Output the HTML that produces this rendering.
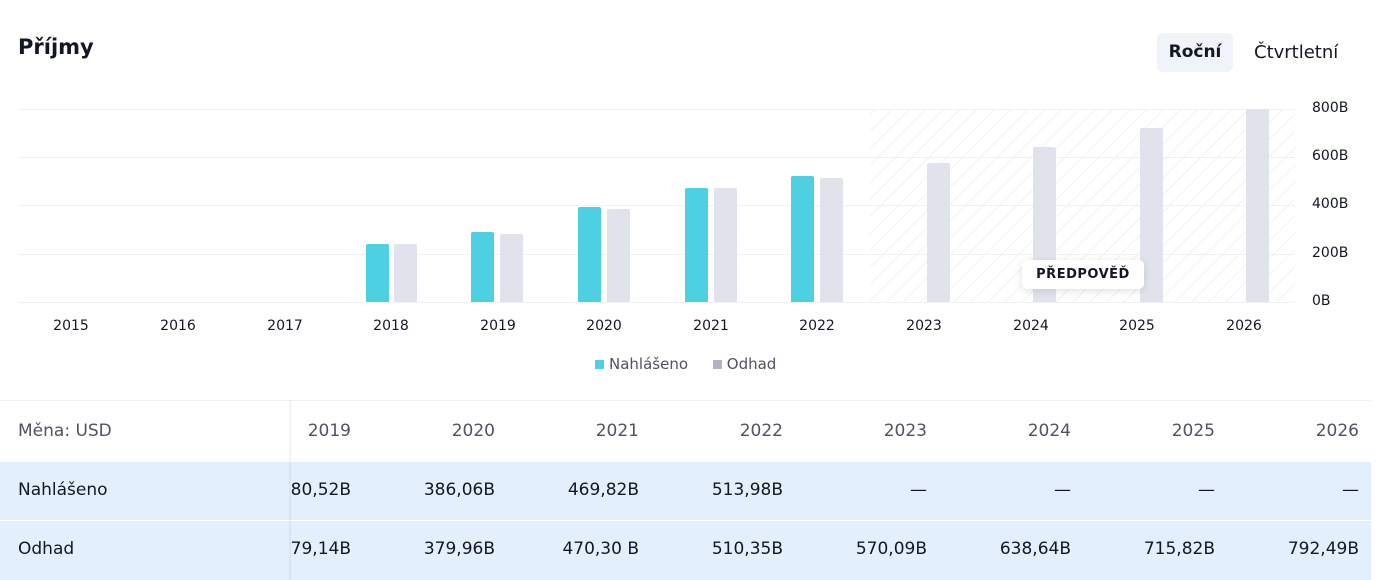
<!DOCTYPE html>
<html><head><meta charset="utf-8"><style>
body{margin:0;width:1383px;height:580px;background:#fff;font-family:"DejaVu Sans","Liberation Sans",sans-serif;color:#131722;overflow:hidden;position:relative}
.a{position:absolute}
.yl{position:absolute;left:1312px;font-size:14px;color:#131722}
.xl{position:absolute;top:318px;width:60px;margin-left:-30px;text-align:center;font-size:14px}
.b{position:absolute;width:23px;border-radius:2px 2px 0 0}
.c{background:#4dd0e1}.g{background:#e0e3eb}
.row{position:absolute;left:0;width:1371px;font-size:17px}
.cell{position:absolute;width:140px;text-align:right}
</style></head><body>
<div class="a" style="left:18px;top:35px;font-size:21px;font-weight:bold">Příjmy</div>
<div class="a" style="left:1157px;top:33px;width:76px;height:39px;background:#f0f3fa;border-radius:6px;font-size:17px;font-weight:bold;line-height:39px;text-align:center">Roční</div>
<div class="a" style="left:1254px;top:33px;line-height:39px;font-size:18px">Čtvrtletní</div>
<svg class="a" style="left:0;top:0" width="1383" height="400">
<defs><pattern id="h" width="12" height="12" patternUnits="userSpaceOnUse" patternTransform="rotate(45)"><line x1="0" y1="0" x2="0" y2="12" stroke="#e4e6eb" stroke-width="1"/></pattern></defs>
<rect x="870" y="109" width="425" height="193" fill="url(#h)"/>
<g stroke="#f0f1f4"><line x1="18" x2="1295" y1="109.5" y2="109.5"/><line x1="18" x2="1295" y1="157.5" y2="157.5"/><line x1="18" x2="1295" y1="205.5" y2="205.5"/><line x1="18" x2="1295" y1="254.5" y2="254.5"/><line x1="18" x2="1295" y1="302.5" y2="302.5"/></g>
</svg>
<div class="yl" style="top:100px">800B</div><div class="yl" style="top:148px">600B</div><div class="yl" style="top:196px">400B</div><div class="yl" style="top:245px">200B</div><div class="yl" style="top:293px">0B</div>
<div class="b c" style="left:366px;top:244px;height:58px"></div><div class="b g" style="left:394px;top:244px;height:58px"></div>
<div class="b c" style="left:471px;top:232px;height:70px"></div><div class="b g" style="left:500px;top:234px;height:68px"></div>
<div class="b c" style="left:578px;top:207px;height:95px"></div><div class="b g" style="left:607px;top:209px;height:93px"></div>
<div class="b c" style="left:685px;top:188px;height:114px"></div><div class="b g" style="left:714px;top:188px;height:114px"></div>
<div class="b c" style="left:791px;top:176px;height:126px"></div><div class="b g" style="left:820px;top:178px;height:124px"></div>
<div class="b g" style="left:927px;top:163px;height:139px"></div>
<div class="b g" style="left:1033px;top:147px;height:155px"></div>
<div class="b g" style="left:1140px;top:128px;height:174px"></div>
<div class="b g" style="left:1246px;top:109px;height:193px"></div>
<div class="a" style="left:1022px;top:260px;width:122px;height:29px;background:#fff;border-radius:5px;box-shadow:0 2px 8px rgba(0,0,0,.12);font-size:13px;font-weight:bold;line-height:29px;text-align:center;letter-spacing:.5px">PŘEDPOVĚĎ</div>
<div class="xl" style="left:71px">2015</div><div class="xl" style="left:178px">2016</div><div class="xl" style="left:285px">2017</div><div class="xl" style="left:391px">2018</div><div class="xl" style="left:498px">2019</div><div class="xl" style="left:604px">2020</div><div class="xl" style="left:711px">2021</div><div class="xl" style="left:817px">2022</div><div class="xl" style="left:924px">2023</div><div class="xl" style="left:1031px">2024</div><div class="xl" style="left:1137px">2025</div><div class="xl" style="left:1244px">2026</div>
<div class="a" style="left:595px;top:355px;font-size:15px;color:#50535e"><span style="display:inline-block;width:9px;height:9px;background:#4dd0e1;margin-right:5px"></span>Nahlášeno <span style="display:inline-block;width:9px;height:9px;background:#b2b5be;margin:0 5px 0 20px"></span>Odhad</div>
<div class="a" style="left:0;top:400px;width:1371px;height:1px;background:#f0f1f4"></div>
<div class="row" style="top:400px;height:62px;line-height:62px;color:#50535e">
<span class="a" style="left:18px">Měna: USD</span>
<span class="cell" style="left:211px">2019</span><span class="cell" style="left:355px">2020</span><span class="cell" style="left:499px">2021</span><span class="cell" style="left:643px">2022</span><span class="cell" style="left:787px">2023</span><span class="cell" style="left:931px">2024</span><span class="cell" style="left:1075px">2025</span><span class="cell" style="left:1219px">2026</span></div>
<div class="row" style="top:462px;height:58px;line-height:56px;background:#e3effd">
<span class="a" style="left:18px">Nahlášeno</span>
<span class="cell" style="left:211px">80,52B</span><span class="cell" style="left:355px">386,06B</span><span class="cell" style="left:499px">469,82B</span><span class="cell" style="left:643px">513,98B</span><span class="cell" style="left:787px">—</span><span class="cell" style="left:931px">—</span><span class="cell" style="left:1075px">—</span><span class="cell" style="left:1219px">—</span></div>
<div class="row" style="top:521px;height:59px;line-height:56px;background:#e3effd">
<span class="a" style="left:18px">Odhad</span>
<span class="cell" style="left:211px">79,14B</span><span class="cell" style="left:355px">379,96B</span><span class="cell" style="left:499px">470,30 B</span><span class="cell" style="left:643px">510,35B</span><span class="cell" style="left:787px">570,09B</span><span class="cell" style="left:931px">638,64B</span><span class="cell" style="left:1075px">715,82B</span><span class="cell" style="left:1219px">792,49B</span></div>
<div class="a" style="left:289px;top:400px;width:2px;height:180px;background:rgba(0,0,0,.04)"></div>
</body></html>
